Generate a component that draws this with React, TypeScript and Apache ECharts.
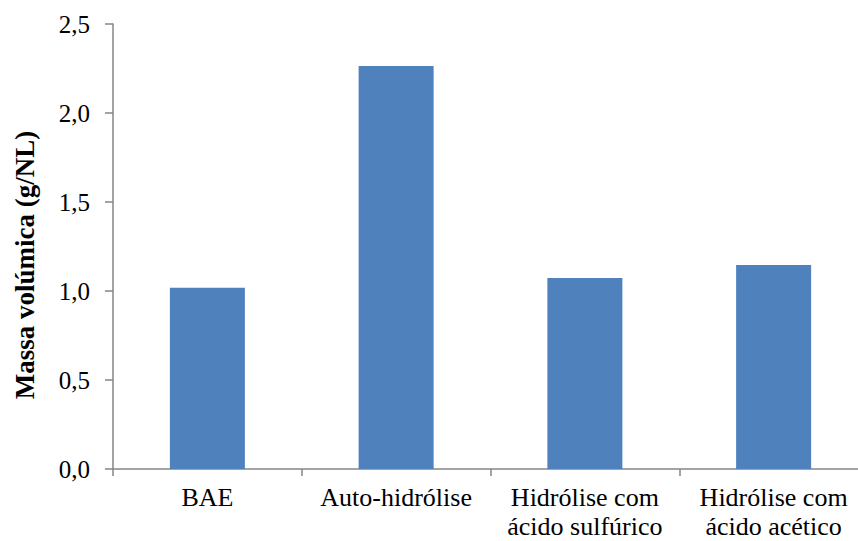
import React, { useEffect, useRef } from "react";
import * as echarts from "echarts";

const categories = ["BAE", "Auto-hidrólise", "Hidrólise com\nácido sulfúrico", "Hidrólise com\nácido acético"];
const values = [1.018, 2.264, 1.073, 1.146];
const yTicks = [0, 0.5, 1.0, 1.5, 2.0, 2.5];
const yTitle = "Massa volúmica (g/NL)";

export default function App() {
  const ref = useRef<HTMLDivElement>(null);
  useEffect(() => {
    const chart = echarts.init(ref.current!, null, { renderer: "svg" });
    const font = "Times New Roman, Liberation Serif, DejaVu Serif, serif";
    chart.setOption({
      animation: false,
      textStyle: { fontFamily: font },
      grid: { left: 113, top: 24, right: -10, bottom: 72, containLabel: false, outerBoundsMode: "none" },
      graphic: [
        {
          type: "text",
          x: 25,
          y: 265,
          rotation: Math.PI / 2,
          style: {
            text: yTitle,
            fill: "#000",
            font: "bold 27px " + font,
            textAlign: "center",
            textVerticalAlign: "middle",
          },
        },
      ],
      xAxis: {
        type: "category",
        data: categories,
        axisLine: { lineStyle: { color: "#868686", width: 1.5 } },
        axisTick: { show: true, length: 7, alignWithLabel: false, lineStyle: { color: "#868686", width: 1.5 } },
        axisLabel: { color: "#000", fontFamily: font, fontSize: 26, lineHeight: 29, margin: 14, interval: 0 },
      },
      yAxis: {
        type: "value",
        min: 0,
        max: 2.5,
        interval: 0.5,
        axisLine: { show: true, lineStyle: { color: "#868686", width: 1.5 } },
        axisTick: { show: true, length: 8, lineStyle: { color: "#868686", width: 1.5 } },
        splitLine: { show: false },
        axisLabel: {
          color: "#000",
          fontFamily: font,
          fontSize: 25,
          margin: 23,
          formatter: (v: number) => (yTicks.includes(v) ? v.toFixed(1).replace(".", ",") : ""),
        },
      },
      series: [
        {
          type: "bar",
          data: values,
          barWidth: 75,
          itemStyle: { color: "#4F81BD" },
        },
      ],
    });
    return () => chart.dispose();
  }, []);
  return <div ref={ref} style={{ width: 858, height: 541, position: "absolute", left: 0, top: 0 }} />;
}
